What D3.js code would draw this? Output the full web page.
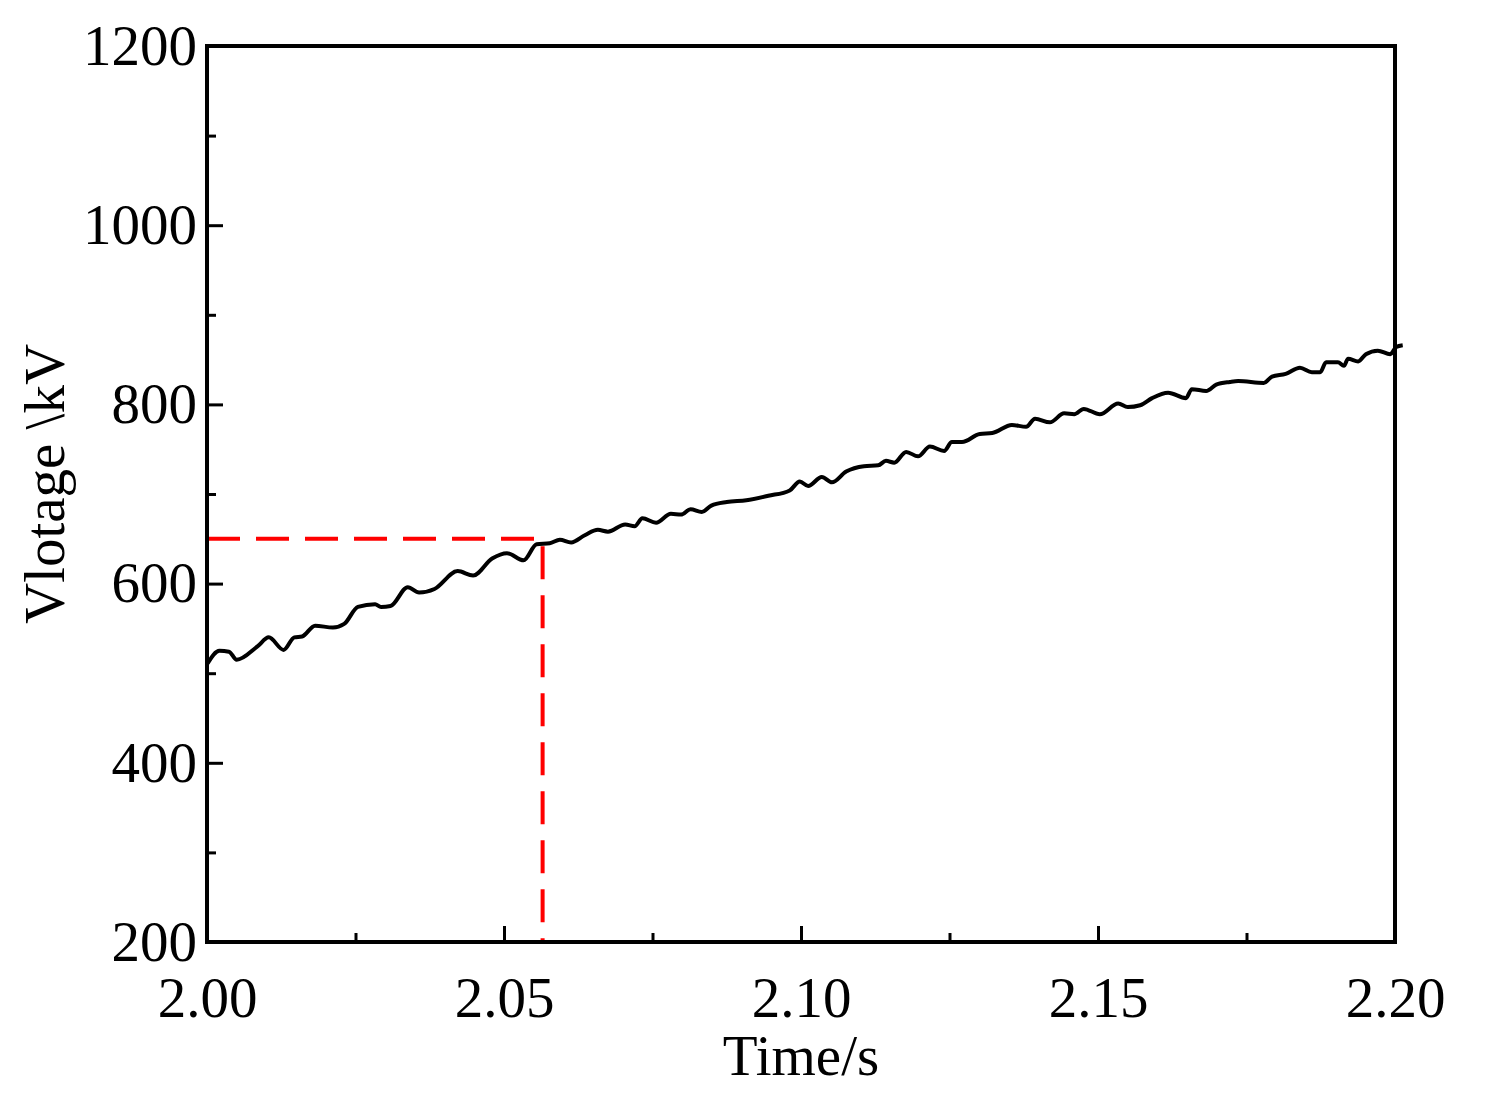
<!DOCTYPE html>
<html><head><meta charset="utf-8">
<script src="https://cdn.jsdelivr.net/npm/d3@7"></script>
<style>body{margin:0;background:#fff}text{font-family:"Liberation Serif","Times New Roman",serif}</style>
</head><body><svg id="c" width="1488" height="1108"></svg>
<script>
const time = [2.0001,2.0021,2.0037,2.0050,2.0085,2.0104,2.0129,2.0147,2.0160,2.0182,2.0212,2.0231,2.0254,2.0283,2.0293,2.0309,2.0338,2.0357,2.0383,2.0422,2.0448,2.0480,2.0505,2.0533,2.0555,2.0577,2.0594,2.0613,2.0636,2.0658,2.0675,2.0704,2.0720,2.0733,2.0756,2.0781,2.0798,2.0814,2.0833,2.0849,2.0875,2.0908,2.0945,
2.0981,2.0998,2.1012,2.1035,2.1052,2.1076,2.1106,2.1130,2.1143,2.1157,2.1177,2.1197,2.1217,2.1241,2.1254,2.1271,2.1301,2.1322,2.1355,2.1379,2.1394,2.1419,2.1443,2.1460,2.1476,2.1503,2.1534,2.1550,2.1571,2.1591,2.1618,2.1648,2.1658,2.1682,2.1699,2.1722,2.1736,2.1779,2.1793,2.1816,2.1840,2.1860,2.1874,2.1884,2.1904,2.1914,2.1921,2.1938,2.1951,2.1971,2.1992,2.2002,2.2013];
const voltage = [511,525,524,515,530,540,526,540,541,553,551,555,574,577,574,575,596,590,594,614,609,628,634,626,644,645,649,646,654,660,658,666,664,673,668,678,677,683,680,687,691,693,698,
704,714,709,719,713,725,731,732,737,735,747,742,753,748,758,758,767,768,777,775,784,780,790,789,795,789,801,797,799,807,813,807,817,815,822,825,826,824,831,834,841,836,836,847,847,843,851,848,856,860,856,864,866];
const markT = 2.0565, markV = 650;
const xTicks = [2.00,2.05,2.10,2.15,2.20];
const xMinor = [2.025,2.075,2.125,2.175];
const yTicks = [200,400,600,800,1000,1200];
const yMinor = [300,500,700,900,1100];

const svg = d3.select("#c");
const L=207,R=1395,T=46,B=942;
const x = d3.scaleLinear().domain([2.0,2.2]).range([L,R]);
const y = d3.scaleLinear().domain([200,1200]).range([B,T]);

svg.append("path").attr("d",`M${x(2.0)},${y(markV)}H${x(markT)}V${y(200)}`)
  .attr("fill","none").attr("stroke","#ff0000").attr("stroke-width",4).attr("stroke-dasharray","33,16");

svg.append("path").datum(d3.zip(time,voltage))
  .attr("d",d3.line().curve(d3.curveMonotoneX).x(d=>x(d[0])).y(d=>y(d[1])))
  .attr("fill","none").attr("stroke","#000").attr("stroke-width",4).attr("stroke-linejoin","round");

svg.append("rect").attr("x",L).attr("y",T).attr("width",R-L).attr("height",B-T)
  .attr("fill","none").attr("stroke","#000").attr("stroke-width",4);

const xa = svg.append("g").attr("transform",`translate(0,${B})`)
  .call(d3.axisBottom(x).tickValues(xTicks).tickFormat(d3.format(".2f")).tickSize(-16));
const xm = svg.append("g").attr("transform",`translate(0,${B})`)
  .call(d3.axisBottom(x).tickValues(xMinor).tickFormat("").tickSize(-9));
const ya = svg.append("g").attr("transform",`translate(${L},0)`)
  .call(d3.axisLeft(y).tickValues(yTicks).tickFormat(d3.format("d")).tickSize(-16).tickPadding(10));
const ym = svg.append("g").attr("transform",`translate(${L},0)`)
  .call(d3.axisLeft(y).tickValues(yMinor).tickFormat("").tickSize(-9));
[xa,xm,ya,ym].forEach(g=>{g.select(".domain").remove();
  g.selectAll("line").attr("stroke","#000").attr("stroke-width",3);
  g.selectAll("text").attr("fill","#000").style("font-size","57px").style("font-family","Liberation Serif");});
xa.selectAll("text").attr("y",null).attr("dy",null).attr("transform","translate(0,75)");

svg.append("text").attr("x",(L+R)/2).attr("y",1075).attr("text-anchor","middle")
  .style("font-size","57px").text("Time/s");
svg.append("text").attr("transform",`translate(64,${(T+B)/2 - 10}) rotate(-90)`).attr("text-anchor","middle")
  .style("font-size","57px").text("Vlotage \\kV");
</script></body></html>
